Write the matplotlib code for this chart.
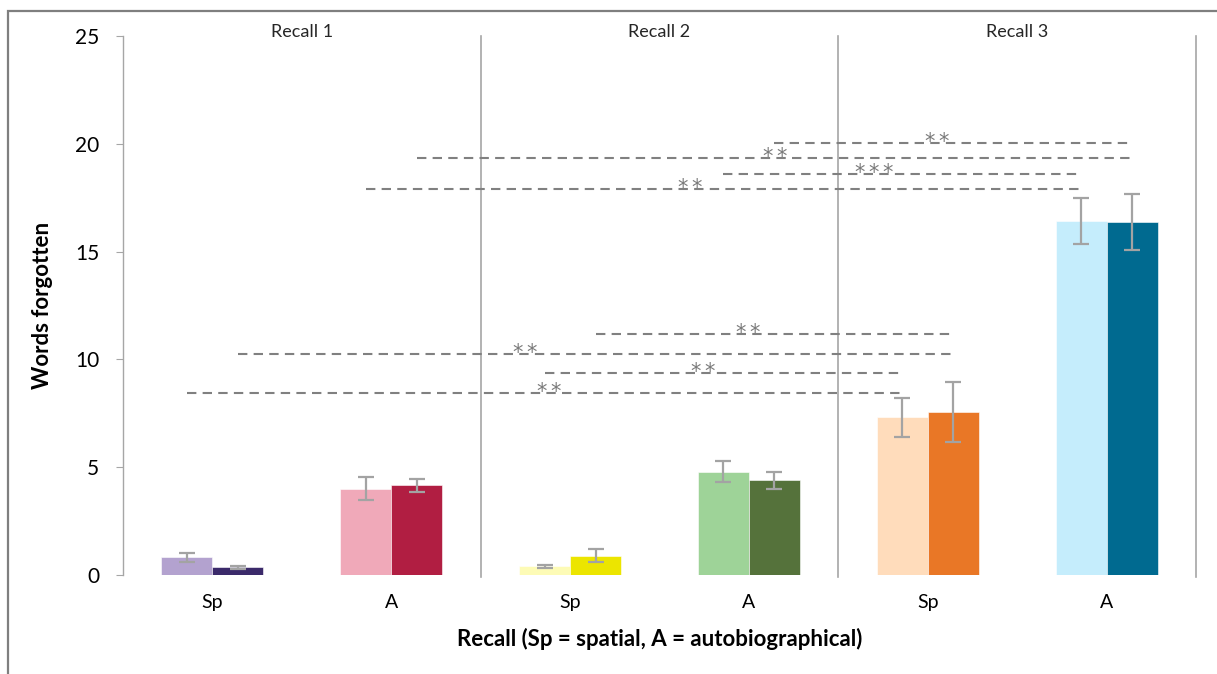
import matplotlib
matplotlib.use("Agg")
import matplotlib.pyplot as plt
from matplotlib.patches import Rectangle

plt.rcParams['font.family'] = ['Lato', 'DejaVu Sans']

# ---- data -------------------------------------------------------------
categories = ["Sp", "A", "Sp", "A", "Sp", "A"]
recall_names = ["Recall 1", "Recall 2", "Recall 3"]

first_means = [0.82, 4.00, 0.40, 4.79, 7.31, 16.42]
first_errs = [0.20, 0.53, 0.08, 0.48, 0.89, 1.06]
second_means = [0.36, 4.16, 0.90, 4.39, 7.57, 16.36]
second_errs = [0.07, 0.30, 0.30, 0.38, 1.38, 1.30]

light_colors = ["#b3a2cf", "#f0a9b9", "#fdfbb6", "#9ed398", "#ffdcbb", "#c5edfc"]
dark_colors = ["#3b2a6a", "#b11e42", "#ece500", "#55723b", "#e97726", "#006a90"]

# significance comparisons: (category a, bar a, category b, bar b, level, label, label position)
# bar 0 = light (left), bar 1 = dark (right)
comparisons = [
    (3, 1, 5, 1, 20.05, "**", 0.42),
    (1, 1, 5, 1, 19.35, "**", 0.483),
    (3, 0, 5, 0, 18.62, "***", 0.366),
    (1, 0, 5, 0, 17.90, "**", 0.435),
    (2, 1, 4, 1, 11.18, "**", 0.39),
    (0, 1, 4, 1, 10.25, "**", 0.384),
    (2, 0, 4, 0, 9.35, "**", 0.407),
    (0, 0, 4, 0, 8.45, "**", 0.488),
]

# ---- figure -------------------------------------------------------------
W, H = 1217, 674
fig = plt.figure(figsize=(W / 100, H / 100), dpi=100)
ax = fig.add_axes([123 / W, 1 - 575 / H, (1196 - 123) / W, (575 - 36) / H])

bw = 0.285
xs = list(range(len(categories)))
err_kw = dict(ecolor="#a3a3a3", elinewidth=1.6, capsize=5.5, capthick=1.6)
ax.bar([x - bw / 2 for x in xs], first_means, width=bw, color=light_colors,
       yerr=first_errs, error_kw=err_kw, zorder=2, edgecolor="white", linewidth=0.4)
ax.bar([x + bw / 2 for x in xs], second_means, width=bw, color=dark_colors,
       yerr=second_errs, error_kw=err_kw, zorder=2, edgecolor="white", linewidth=0.4)

ax.set_xlim(-0.5, 5.5)
ax.set_ylim(0, 25)
ax.set_yticks([0, 5, 10, 15, 20, 25])
ax.set_xticks(xs)
ax.set_xticklabels(categories)

for s in ["top", "right", "bottom"]:
    ax.spines[s].set_visible(False)
ax.spines["left"].set_color("#a6a6a6")
ax.spines["left"].set_linewidth(1.0)
ax.tick_params(axis="y", direction="out", length=5, color="#a6a6a6",
               labelsize=15, pad=12, labelcolor="#000000")
ax.tick_params(axis="x", length=0, labelsize=14, pad=14)

# group separators
for sep in [1.5, 3.5, 5.5]:
    ax.plot([sep, sep], [-0.1, 25], color="#a6a6a6", lw=1.2, clip_on=False, zorder=1)

# group titles
for i, name in enumerate(recall_names):
    ax.text(2 * i + 0.5, 25.2, name, ha="center", va="center", fontsize=13,
            color="#262626")

# significance lines with star labels sitting on them
for ca, ba, cb, bb, level, label, frac in comparisons:
    xa = ca + (bw / 2 if ba else -bw / 2)
    xb = cb + (bw / 2 if bb else -bw / 2)
    ax.plot([xa, xb], [level, level], color="#808080", lw=1.5,
            dashes=(4.5, 3.0), zorder=3)
    x0 = xa + frac * (xb - xa)
    for k, ch in enumerate(label):
        ax.annotate(ch, xy=(x0, level), xytext=(k * 10.2, -3.6),
                    textcoords="offset points", ha="left", va="baseline",
                    fontsize=15, color="#7a7a7a", fontfamily="DejaVu Sans",
                    zorder=4)

ax.set_ylabel("Words forgotten", fontsize=16, fontweight="bold", labelpad=16)
ax.set_xlabel("Recall (Sp = spatial, A = autobiographical)", fontsize=16,
              fontweight="bold", labelpad=12)

# outer frame
fig.patches.append(Rectangle((8 / W, -0.01), 1.02, 1 - 11 / H + 0.01,
                             transform=fig.transFigure, fill=False,
                             edgecolor="#7f7f7f", linewidth=1.6))

fig.savefig("out.png", dpi=100)
